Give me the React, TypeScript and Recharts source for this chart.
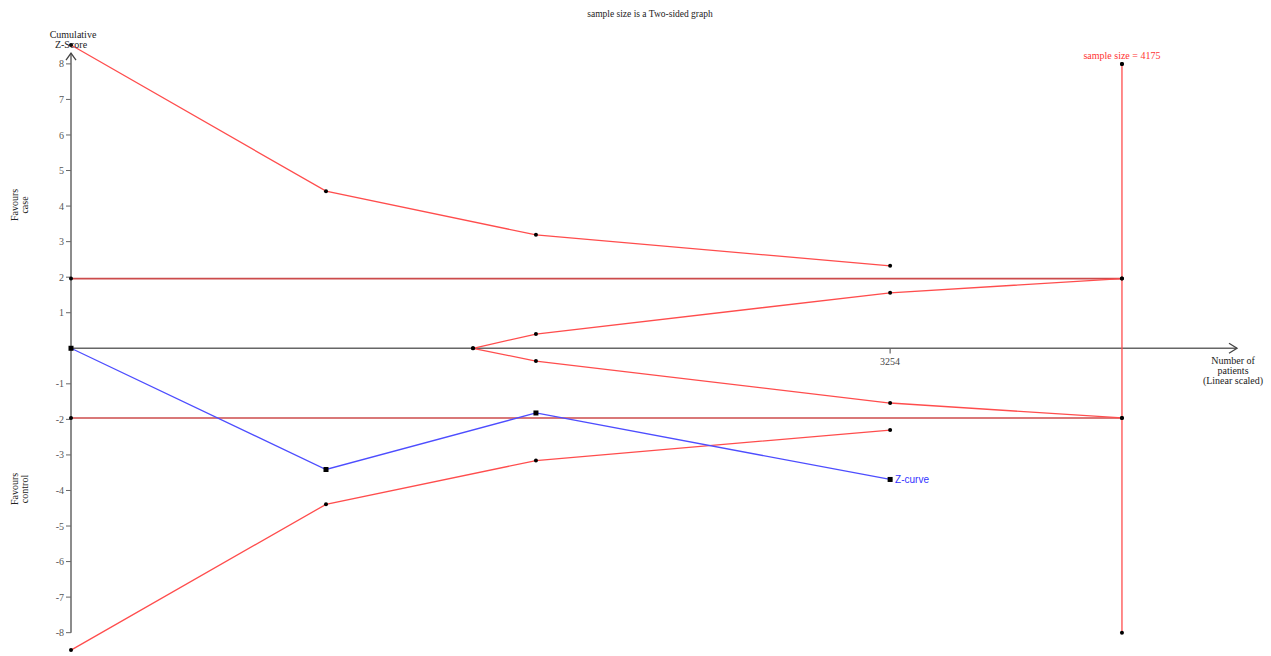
import { ComposedChart, Line, XAxis, YAxis, ReferenceLine, ReferenceDot } from 'recharts';

// cumulative number of patients (x) vs cumulative Z-score (z)
const upperBoundary = [
  { n: 0, z: 8.53 },
  { n: 1013, z: 4.42 },
  { n: 1847, z: 3.19 },
  { n: 3254, z: 2.32 },
];
const lowerBoundary = [
  { n: 0, z: -8.49 },
  { n: 1013, z: -4.39 },
  { n: 1847, z: -3.16 },
  { n: 3254, z: -2.3 },
];
const futilityUpper = [
  { n: 1597, z: 0 },
  { n: 1847, z: 0.4 },
  { n: 3254, z: 1.56 },
  { n: 4175, z: 1.96 },
];
const futilityLower = [
  { n: 1597, z: 0 },
  { n: 1847, z: -0.36 },
  { n: 3254, z: -1.54 },
  { n: 4175, z: -1.96 },
];
const zCurve = [
  { n: 0, z: 0 },
  { n: 1013, z: -3.41 },
  { n: 1847, z: -1.82 },
  { n: 3254, z: -3.69 },
];
const conventionalUpper = [{ n: 0, z: 1.96 }, { n: 4175, z: 1.96 }];
const conventionalLower = [{ n: 0, z: -1.96 }, { n: 4175, z: -1.96 }];
const requiredSize = [{ n: 4175, z: 8 }, { n: 4175, z: -8 }];

const yTicks = [-8, -7, -6, -5, -4, -3, -2, -1, 1, 2, 3, 4, 5, 6, 7, 8];
const xTickValue = 3254;
const REQUIRED = 4175;
const X_MAX = 4632;
const Y_TOP = 8.3;

const SERIF = '"Liberation Serif", "Times New Roman", serif';
const RED = '#ff4d4d';
const AXIS = '#666';

const blackDot = { r: 2, fill: '#000', stroke: 'none' };

const squareDot = (p: any) => (
  <rect key={`sq-${p.index}`} x={p.cx - 2.5} y={p.cy - 2.5} width={5} height={5} fill="#000" />
);

export default function App() {
  return (
    <div style={{ position: 'relative', width: 1271, height: 656, fontFamily: SERIF }}>
      <style>{'body{margin:0}'}</style>
      <ComposedChart width={1271} height={656} margin={{ top: 7, right: 34, bottom: 2, left: 0 }}>
        <XAxis dataKey="n" type="number" domain={[0, X_MAX]} hide />
        <YAxis
          type="number"
          domain={[-8.6, 9.6]}
          ticks={yTicks}
          width={71}
          axisLine={false}
          tickLine={{ stroke: AXIS }}
          tickSize={5}
          tick={{ fontSize: 10, fill: '#555', fontFamily: SERIF }}
        />

        {/* axes */}
        <ReferenceLine segment={[{ x: 0, y: 0 }, { x: X_MAX, y: 0 }]} stroke={AXIS} strokeWidth={1.5} />
        <ReferenceLine segment={[{ x: 0, y: -8 }, { x: 0, y: Y_TOP }]} stroke={AXIS} strokeWidth={1.5} />
        <ReferenceDot
          x={X_MAX}
          y={0}
          r={1}
          shape={(p: any) => (
            <path d={`M${p.cx - 8},${p.cy - 5}L${p.cx},${p.cy}L${p.cx - 8},${p.cy + 5}`} fill="none" stroke="#444" strokeWidth={1.3} />
          )}
        />
        <ReferenceDot
          x={0}
          y={Y_TOP}
          r={1}
          shape={(p: any) => (
            <path d={`M${p.cx - 5},${p.cy + 7}L${p.cx},${p.cy}L${p.cx + 5},${p.cy + 7}`} fill="none" stroke="#444" strokeWidth={1.3} />
          )}
        />
        <ReferenceLine
          segment={[{ x: xTickValue, y: 0 }, { x: xTickValue, y: -0.15 }]}
          stroke={AXIS}
          strokeWidth={1.2}
          label={{ value: String(xTickValue), position: 'bottom', offset: 4, fontSize: 10, fill: '#444', fontFamily: SERIF }}
        />

        {/* conventional boundaries */}
        <Line data={conventionalUpper} dataKey="z" stroke="#cc4b4b" strokeWidth={1.6} dot={blackDot} isAnimationActive={false} />
        <Line data={conventionalLower} dataKey="z" stroke="#cc4b4b" strokeWidth={1.6} dot={blackDot} isAnimationActive={false} />

        {/* required information size */}
        <Line data={requiredSize} dataKey="z" stroke={RED} strokeWidth={1.3} dot={blackDot} isAnimationActive={false} />

        {/* monitoring and futility boundaries */}
        <Line data={upperBoundary} dataKey="z" stroke={RED} strokeWidth={1.3} dot={blackDot} isAnimationActive={false} />
        <Line data={lowerBoundary} dataKey="z" stroke={RED} strokeWidth={1.3} dot={blackDot} isAnimationActive={false} />
        <Line data={futilityUpper} dataKey="z" stroke={RED} strokeWidth={1.3} dot={blackDot} isAnimationActive={false} />
        <Line data={futilityLower} dataKey="z" stroke={RED} strokeWidth={1.3} dot={blackDot} isAnimationActive={false} />

        {/* cumulative Z-curve */}
        <Line data={zCurve} dataKey="z" stroke="#4d4dff" strokeWidth={1.3} dot={squareDot} isAnimationActive={false} />

        <ReferenceDot
          x={REQUIRED}
          y={8}
          r={2}
          fill="#000"
          stroke="none"
          label={{ value: `sample size = ${REQUIRED}`, position: 'top', offset: 3, fontSize: 10, fill: '#ff3333', fontFamily: SERIF }}
        />
        <ReferenceDot
          x={3254}
          y={-3.69}
          r={2}
          fill="#000"
          stroke="none"
          label={{ value: 'Z-curve', position: 'right', offset: 3, fontSize: 10, fill: '#3333ff', fontFamily: 'Arial, "Liberation Sans", sans-serif' }}
        />
      </ComposedChart>

      <svg width={1271} height={656} style={{ position: 'absolute', left: 0, top: 0, pointerEvents: 'none' }}>
        <g fontFamily={SERIF} fontSize={10} fill="#222">
          <text x={650} y={17} textAnchor="middle" fontSize={9.5}>sample size is a Two-sided graph</text>
          <text x={73} y={38} textAnchor="middle">Cumulative</text>
          <text x={71} y={48} textAnchor="middle">Z-Score</text>
          <text x={1233} y={364} textAnchor="middle">Number of</text>
          <text x={1233} y={374} textAnchor="middle">patients</text>
          <text x={1233} y={384} textAnchor="middle">(Linear scaled)</text>
          <text transform="translate(18,205) rotate(-90)" textAnchor="middle">Favours</text>
          <text transform="translate(28,205) rotate(-90)" textAnchor="middle">case</text>
          <text transform="translate(18,489) rotate(-90)" textAnchor="middle">Favours</text>
          <text transform="translate(28,489) rotate(-90)" textAnchor="middle">control</text>
        </g>
      </svg>
    </div>
  );
}
